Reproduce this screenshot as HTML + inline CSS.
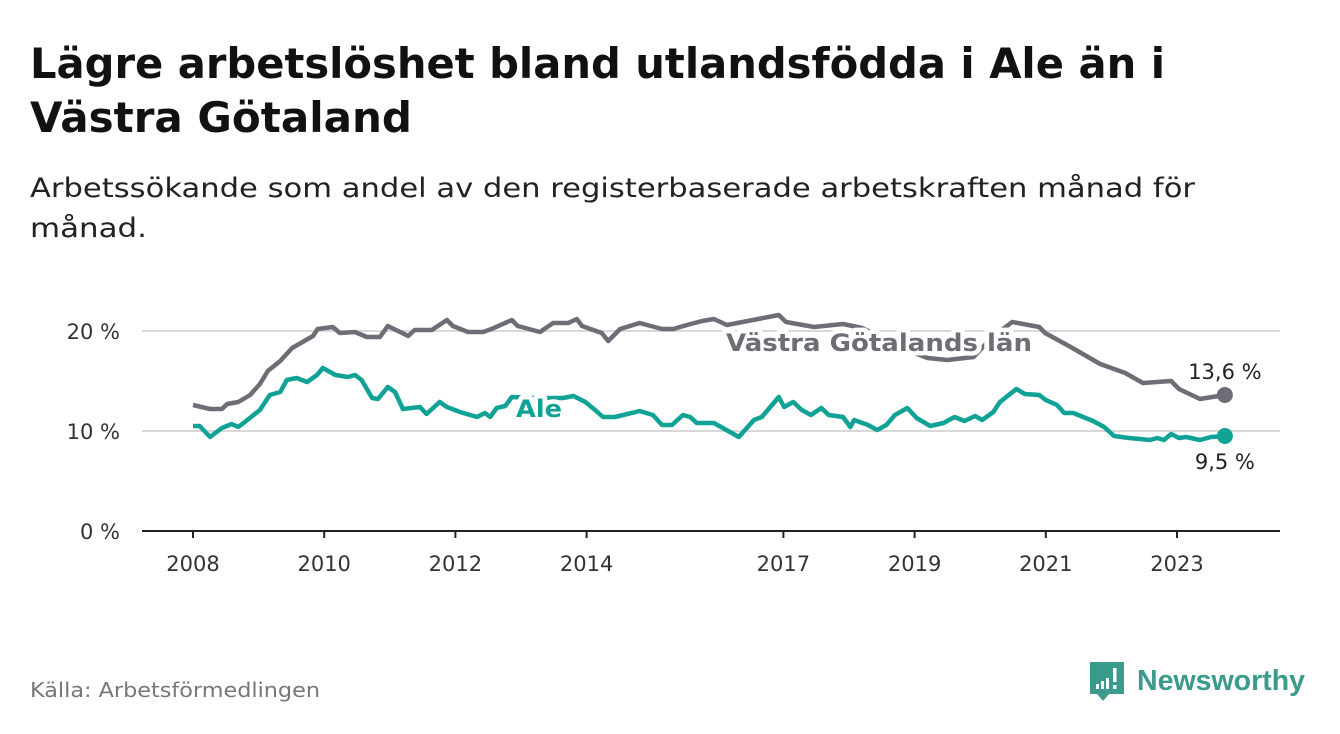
<!DOCTYPE html>
<html><head><meta charset="utf-8">
<style>
body{margin:0;width:1340px;height:734px;background:#fff;overflow:hidden;font-family:"DejaVu Sans","Liberation Sans",sans-serif;}
svg{position:absolute;left:0;top:0}
</style></head>
<body>
<svg width="1340" height="734">
<text x="30" y="78" font-size="42" font-weight="bold" fill="#111" textLength="1135" lengthAdjust="spacingAndGlyphs">Lägre arbetslöshet bland utlandsfödda i Ale än i</text>
<text x="30" y="132" font-size="42" font-weight="bold" fill="#111" textLength="382" lengthAdjust="spacingAndGlyphs">Västra Götaland</text>
<text x="30" y="197" font-size="27" fill="#222" textLength="1165" lengthAdjust="spacingAndGlyphs">Arbetssökande som andel av den registerbaserade arbetskraften månad för</text>
<text x="30" y="237" font-size="27" fill="#222" textLength="117" lengthAdjust="spacingAndGlyphs">månad.</text>
<g id="grid"></g>
<g id="yt"></g>
<g id="xt"></g>
<g id="series"></g>
<text x="30" y="697" font-size="20" fill="#777" textLength="290" lengthAdjust="spacingAndGlyphs">Källa: Arbetsförmedlingen</text>
<g>
<path d="M1090 662 h34 v32 h-15 l-6 7 l-6 -7 h-7 z" fill="#3a9a8c"/>
<rect x="1096" y="684" width="3" height="5" fill="#fff"/><rect x="1101" y="681" width="3" height="8" fill="#fff"/><rect x="1106" y="678" width="3" height="11" fill="#fff"/><rect x="1113" y="668" width="3.5" height="14" fill="#fff"/><rect x="1113" y="685" width="3.5" height="4" fill="#fff"/>
<text x="1137" y="690" font-size="29" font-weight="bold" fill="#3a9a8c" textLength="168" lengthAdjust="spacingAndGlyphs" font-family="Liberation Sans, sans-serif">Newsworthy</text>
</g>
</svg>
<script>
const yTicks=[0,10,20];
const xTickYears=[2008,2010,2012,2014,2017,2019,2021,2023];
const vgTimes=[2008,2008.26,2008.44,2008.52,2008.69,2008.87,2009.02,2009.14,2009.33,2009.51,2009.83,2009.9,2010.13,2010.24,2010.47,2010.65,2010.85,2010.97,2011.28,2011.38,2011.64,2011.87,2011.96,2012.19,2012.42,2012.55,2012.86,2012.95,2013.29,2013.49,2013.72,2013.85,2013.93,2014.23,2014.33,2014.51,2014.81,2015.15,2015.32,2015.53,2015.76,2015.94,2016.14,2016.93,2017.04,2017.47,2017.91,2018.2,2018.6,2019.0,2019.2,2019.5,2019.9,2020.2,2020.49,2020.9,2020.99,2021.38,2021.83,2022.21,2022.48,2022.91,2023.03,2023.35,2023.73];
const vgValues=[12.6,12.2,12.2,12.7,12.9,13.6,14.7,16.0,17.0,18.3,19.5,20.2,20.4,19.8,19.9,19.4,19.4,20.5,19.5,20.1,20.1,21.1,20.5,19.9,19.9,20.2,21.1,20.5,19.9,20.8,20.8,21.2,20.5,19.8,19.0,20.2,20.8,20.2,20.2,20.6,21.0,21.2,20.6,21.6,20.9,20.4,20.7,20.3,19.0,17.8,17.3,17.1,17.4,19.5,20.9,20.4,19.8,18.4,16.7,15.8,14.8,15.0,14.2,13.2,13.6];
const aleTimes=[2008,2008.1,2008.26,2008.44,2008.59,2008.69,2008.79,2009.02,2009.17,2009.33,2009.43,2009.58,2009.74,2009.89,2009.98,2010.17,2010.36,2010.47,2010.57,2010.73,2010.82,2010.97,2011.08,2011.2,2011.46,2011.56,2011.76,2011.87,2012.07,2012.33,2012.45,2012.53,2012.63,2012.76,2012.86,2013.2,2013.64,2013.8,2013.98,2014.13,2014.25,2014.43,2014.56,2014.81,2015.01,2015.15,2015.3,2015.47,2015.58,2015.68,2015.94,2016.05,2016.32,2016.55,2016.67,2016.93,2017.01,2017.15,2017.28,2017.42,2017.58,2017.69,2017.91,2018.02,2018.08,2018.29,2018.43,2018.57,2018.7,2018.89,2019.03,2019.24,2019.44,2019.61,2019.76,2019.92,2020.03,2020.2,2020.3,2020.55,2020.68,2020.9,2021.0,2021.17,2021.28,2021.42,2021.72,2021.89,2022.04,2022.27,2022.59,2022.7,2022.8,2022.91,2023.03,2023.14,2023.35,2023.52,2023.73];
const aleValues=[10.5,10.5,9.4,10.3,10.7,10.4,10.9,12.1,13.6,13.9,15.1,15.3,14.9,15.6,16.3,15.6,15.4,15.6,15.1,13.3,13.2,14.4,13.9,12.2,12.4,11.7,12.9,12.4,11.9,11.4,11.8,11.4,12.3,12.5,13.4,13.3,13.3,13.5,12.9,12.1,11.4,11.4,11.6,12.0,11.6,10.6,10.6,11.6,11.4,10.8,10.8,10.4,9.4,11.1,11.4,13.4,12.4,12.9,12.1,11.6,12.3,11.6,11.4,10.4,11.1,10.6,10.1,10.6,11.6,12.3,11.3,10.5,10.8,11.4,11.0,11.5,11.1,11.9,12.9,14.2,13.7,13.6,13.1,12.6,11.8,11.8,11.0,10.4,9.5,9.3,9.1,9.3,9.1,9.7,9.3,9.4,9.1,9.4,9.5];
const NS="http://www.w3.org/2000/svg";
const X=t=>193+(t-2008)*65.6;
const Y=v=>531-v*10;
function mk(tag,attrs,parent,txt){const e=document.createElementNS(NS,tag);for(const k in attrs)e.setAttribute(k,attrs[k]);if(txt!==undefined)e.textContent=txt;parent.appendChild(e);return e;}
const grid=document.getElementById('grid'),yt=document.getElementById('yt'),xt=document.getElementById('xt'),ser=document.getElementById('series');
yTicks.forEach(v=>{
  const l=mk('line',{x1:142,x2:1280,y1:Y(v),y2:Y(v),stroke:v===0?'#222':'#d8d8d8','stroke-width':2},grid);
  
  
  const t=mk('text',{x:120,y:Y(v)+8,'font-size':21,fill:'#333','text-anchor':'end'},yt,v+' %');
  
  
});
xTickYears.forEach(y=>{
  const l=mk('line',{x1:X(y),x2:X(y),y1:531,y2:538,stroke:'#222','stroke-width':2},xt);
  
  
  const t=mk('text',{x:X(y),y:571,'font-size':21,fill:'#333','text-anchor':'middle'},xt,String(y));
  
  
});
function line(times,vals,color,name){
  const d=times.map((t,i)=>(i?'L':'M')+X(t).toFixed(1)+' '+Y(vals[i]).toFixed(1)).join(' ');
  const p=mk('path',{d:d,fill:'none',stroke:color,'stroke-width':4.5,'stroke-linejoin':'round'},ser);
  
  
  const n=times.length-1;
  const c=mk('circle',{cx:X(times[n]),cy:Y(vals[n]),r:8,fill:color},ser);
  
  
  return [X(times[n]),Y(vals[n]),vals[n]];
}
const vgEnd=line(vgTimes,vgValues,'#6e6d75','vastra-gotaland');
const aleEnd=line(aleTimes,aleValues,'#0fa295','ale');
const fmt=v=>v.toFixed(1).replace('.',',')+' %';
const l1=mk('text',{x:vgEnd[0],y:vgEnd[1]-16,'font-size':21,fill:'#222','text-anchor':'middle',stroke:'#fff','stroke-width':5,'paint-order':'stroke'},ser,fmt(vgEnd[2]));


const l2=mk('text',{x:aleEnd[0],y:aleEnd[1]+33,'font-size':21,fill:'#222','text-anchor':'middle',stroke:'#fff','stroke-width':5,'paint-order':'stroke'},ser,fmt(aleEnd[2]));


const s1=mk('text',{x:726,y:351,'font-size':24,'font-weight':'bold',fill:'#6e6d75',stroke:'#fff','stroke-width':9,'paint-order':'stroke','stroke-linejoin':'round',textLength:306,lengthAdjust:'spacingAndGlyphs'},ser,'Västra Götalands län');


const s2=mk('text',{x:516,y:417,'font-size':24,'font-weight':'bold',fill:'#0fa295',stroke:'#fff','stroke-width':9,'paint-order':'stroke','stroke-linejoin':'round',textLength:46,lengthAdjust:'spacingAndGlyphs'},ser,'Ale');


</script>
</body></html>
